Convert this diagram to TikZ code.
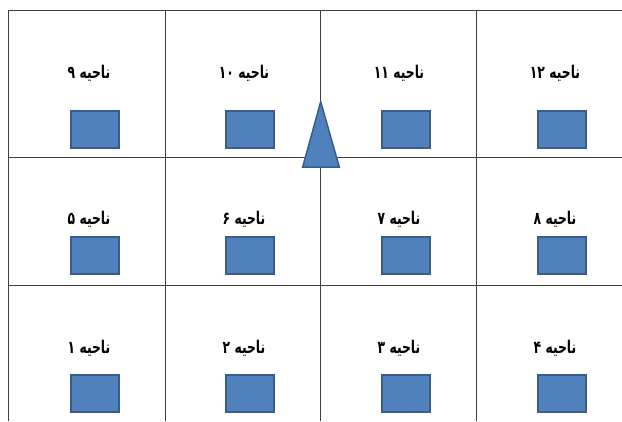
\documentclass[tikz,border=0pt]{standalone}
\usepackage{fontspec}
\usepackage{graphicx}
\TeXXeTstate=1
\newfontfamily\arabicfont[Script=Arabic]{DejaVu Sans}
\definecolor{boxfill}{HTML}{4F81BD}
\definecolor{boxedge}{HTML}{385D8A}
\definecolor{gridc}{HTML}{404040}
\begin{document}
\begin{tikzpicture}[x=1pt,y=-1pt,
  gridline/.style={draw=gridc,line width=1pt},
  bluebox/.style={draw=boxedge,fill=boxfill,line width=1.8pt,minimum width=48.5pt,minimum height=37.5pt,inner sep=0pt},
  lbl/.style={font=\arabicfont\bfseries\fontsize{13}{15}\selectfont,inner sep=0pt},
  tri/.style={draw=boxedge,fill=boxfill,line width=1.5pt,line join=miter}]
\useasboundingbox (0,0) rectangle (622,421);
\fill[white] (0,0) rectangle (622,421);
% grid
\draw[gridline] (8.5,421) -- (8.5,10) -- (622,10);
\foreach \gx in {165,320,476}{\draw[gridline] (\gx,10) -- (\gx,421);}
\foreach \gy in {157,285}{\draw[gridline] (8.5,\gy) -- (622,\gy);}
% boxes and labels
\foreach \n/\x/\lx/\y/\ly/\t in {
  9/95/89/129.5/73/۹, 10/250/244/129.5/73/۱۰, 11/406/399/129.5/73/۱۱, 12/562/555/129.5/73/۱۲,
  5/95/89/255.5/219/۵, 6/250/244/255.5/219/۶, 7/406/399/255.5/219/۷, 8/562/555/255.5/219/۸,
  1/95/89/393.5/348/۱, 2/250/244/393.5/348/۲, 3/406/399/393.5/348/۳, 4/562/555/393.5/348/۴}{
  \node[bluebox] (sq\n) at (\x,\y) {};
  \node[lbl] (lb\n) at (\lx,\ly) {\scalebox{0.95}[1.35]{\beginR ناحیه \beginL\t\endL\endR}};
}
% north arrow triangle
\coordinate (apex) at (320.7,101.7);
\coordinate (bright) at (339.3,167);
\coordinate (bleft) at (302.7,167);
\draw[tri] (apex) -- (bright) -- (bleft) -- cycle;
\end{tikzpicture}
\end{document}
